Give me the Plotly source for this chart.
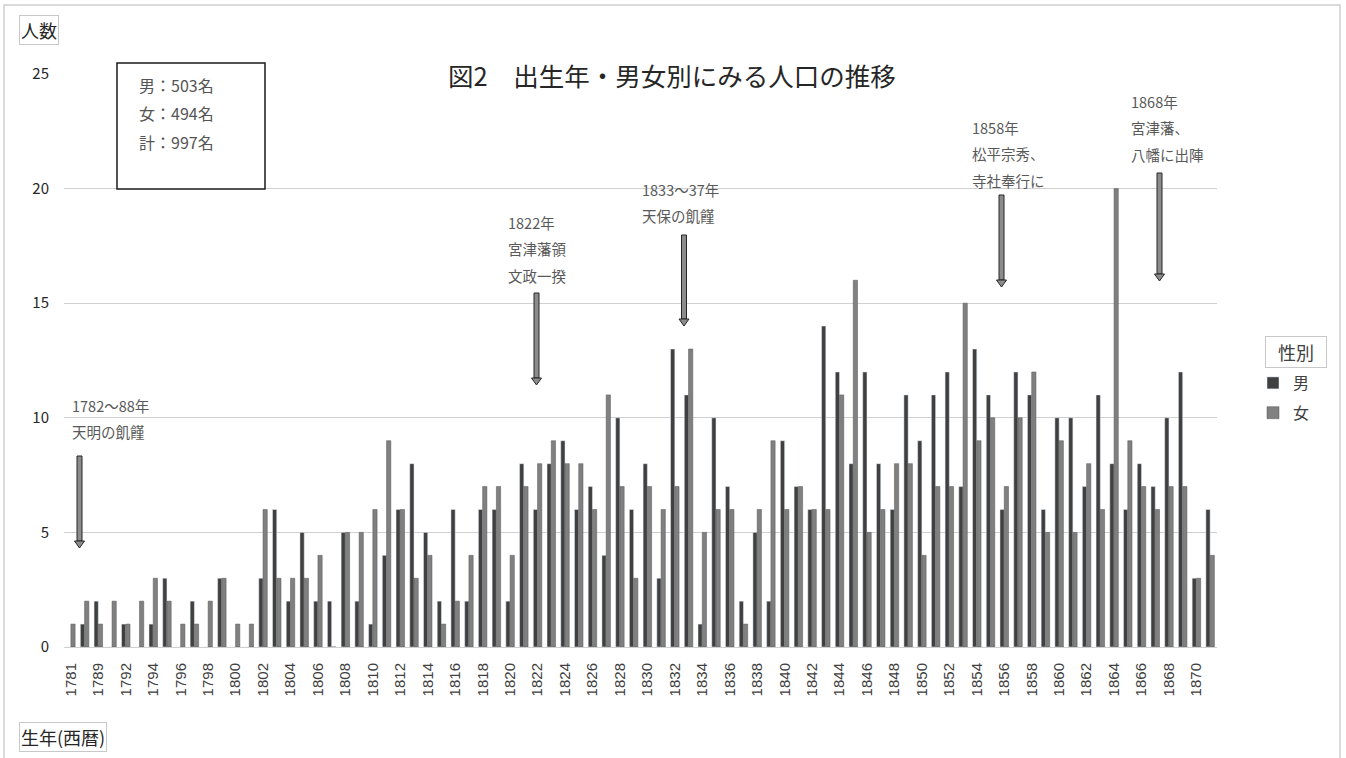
import plotly.graph_objects as go

# ---------------- data ----------------
years = ["1781", "1788", "1789", "1790", "1792", "1793", "1794", "1795", "1796", "1797",
         "1798", "1799", "1800", "1801", "1802", "1803", "1804", "1805", "1806", "1807",
         "1808", "1809", "1810", "1811", "1812", "1813", "1814", "1815", "1816", "1817",
         "1818", "1819", "1820", "1821", "1822", "1823", "1824", "1825", "1826", "1827",
         "1828", "1829", "1830", "1831", "1832", "1833", "1834", "1835", "1836", "1837",
         "1838", "1839", "1840", "1841", "1842", "1843", "1844", "1845", "1846", "1847",
         "1848", "1849", "1850", "1851", "1852", "1853", "1854", "1855", "1856", "1857",
         "1858", "1859", "1860", "1861", "1862", "1863", "1864", "1865", "1866", "1867",
         "1868", "1869", "1870", "1871"]

male = [0, 1, 2, 0, 1, 0, 1, 3, 0, 2, 0, 3, 0, 0,
        3, 6, 2, 5, 2, 2, 5, 2, 1, 4, 6, 8, 5,
        2, 6, 2, 6, 6, 2, 8, 6, 8, 9, 6, 7, 4,
        10, 6, 8, 3, 13, 11, 1, 10, 7, 2, 5, 2, 9,
        7, 6, 14, 12, 8, 12, 8, 6, 11, 9, 11, 12, 7,
        13, 11, 6, 12, 11, 6, 10, 10, 7, 11, 8, 6, 8, 7, 10, 12, 3, 6]

female = [1, 2, 1, 2, 1, 2, 3, 2, 1, 1, 2, 3, 1, 1,
          6, 3, 3, 3, 4, 0, 5, 5, 6, 9, 6, 3, 4,
          1, 2, 4, 7, 7, 4, 7, 8, 9, 8, 8, 6, 11,
          7, 3, 7, 6, 7, 13, 5, 6, 6, 1, 6, 9, 6,
          7, 6, 6, 11, 16, 5, 6, 8, 8, 4, 7, 7, 15,
          9, 10, 7, 10, 12, 5, 9, 5, 8, 6, 20, 9, 7, 6, 7, 7, 3, 4]

tick_years = years[::2]
y_ticks = [0, 5, 10, 15, 20, 25]

summary_lines = ["男：503名", "女：494名", "計：997名"]

events = [
    ["1782〜88年", "天明の飢饉"],
    ["1822年", "宮津藩領", "文政一揆"],
    ["1833〜37年", "天保の飢饉"],
    ["1858年", "松平宗秀、", "寺社奉行に"],
    ["1868年", "宮津藩、", "八幡に出陣"],
]

title_text = "図2　出生年・男女別にみる人口の推移"

# ---------------- layout helpers ----------------
W, H = 1346, 758
L, R, T, B = 64, 1217, 74, 647
FONT = "Noto Sans CJK JP, Noto Sans, sans-serif"
NUMFONT = "Liberation Sans, Arial, sans-serif"


def px(x):
    return (x - L) / (R - L)


def py(y):
    return (B - y) / (B - T)


fig = go.Figure()
fig.add_trace(go.Bar(x=years, y=male, name="男", marker_color="#404040",
                     legendgroup="m"))
fig.add_trace(go.Bar(x=years, y=female, name="女", marker_color="#808080",
                     marker_line=dict(color="#555555", width=0.5),
                     legendgroup="f"))

annotations = []
shapes = []

# title
annotations.append(dict(text=title_text, x=px(672), y=py(74), xref="paper", yref="paper",
                        showarrow=False, xanchor="center", yanchor="middle",
                        font=dict(size=25.5, color="#262626", family=FONT)))

# axis title boxes
annotations.append(dict(text="人数", x=px(19), y=py(30), xref="paper", yref="paper",
                        showarrow=False, xanchor="left", yanchor="middle",
                        font=dict(size=18, color="#262626", family=FONT),
                        bordercolor="#c8c8c8", borderwidth=1, borderpad=1,
                        bgcolor="white"))
annotations.append(dict(text="生年(西暦)", x=px(19), y=py(737), xref="paper", yref="paper",
                        showarrow=False, xanchor="left", yanchor="middle",
                        font=dict(size=18, color="#262626", family=FONT),
                        bordercolor="#c8c8c8", borderwidth=1, borderpad=1,
                        bgcolor="white"))

# legend title box
annotations.append(dict(text="性別", x=px(1296), y=py(352), xref="paper", yref="paper",
                        showarrow=False, xanchor="center", yanchor="middle",
                        font=dict(size=18, color="#404040", family=FONT),
                        bordercolor="#c8c8c8", borderwidth=1, borderpad=2,
                        width=56, bgcolor="white"))

# summary text box
shapes.append(dict(type="rect", xref="paper", yref="paper",
                   x0=px(117), x1=px(265), y0=py(189), y1=py(63),
                   line=dict(color="#1a1a1a", width=1.5), fillcolor="white", layer="above"))
for i, s in enumerate(summary_lines):
    annotations.append(dict(text=s, x=px(137), y=py(84.5 + 28.5 * i), xref="paper", yref="paper",
                            showarrow=False, xanchor="left", yanchor="middle",
                            font=dict(size=16, color="#555555", family=FONT)))

# event annotations: (text left x, first line y, arrow x, arrow top y, arrow tip y)
event_pos = [
    (70, 405, 79.5, 456, 548),
    (506, 222, 536.5, 293, 385),
    (640, 189, 684, 235, 326),
    (970, 127, 1001.5, 195, 287),
    (1129, 101, 1159.5, 173, 281),
]
for lines, (tx, ty, ax, atop, atip) in zip(events, event_pos):
    for j, s in enumerate(lines):
        annotations.append(dict(text=s, x=px(tx), y=py(ty + 26.5 * j), xref="paper", yref="paper",
                                showarrow=False, xanchor="left", yanchor="middle",
                                font=dict(size=14.5, color="#595959", family=FONT)))
    head_h = 7
    # shaft
    shapes.append(dict(type="rect", xref="paper", yref="paper",
                       x0=px(ax - 2.5), x1=px(ax + 2.5), y0=py(atip - head_h), y1=py(atop),
                       line=dict(color="#262626", width=1), fillcolor="#8c8c8c", layer="above"))
    # head
    path = "M {} {} L {} {} L {} {} Z".format(px(ax - 5), py(atip - head_h),
                                               px(ax + 5), py(atip - head_h),
                                               px(ax), py(atip))
    shapes.append(dict(type="path", xref="paper", yref="paper", path=path,
                       line=dict(color="#262626", width=1), fillcolor="#8c8c8c", layer="above"))

# outer chart border
shapes.append(dict(type="rect", xref="paper", yref="paper",
                   x0=px(4), x1=px(1340), y0=py(770), y1=py(5),
                   line=dict(color="#d0d0d0", width=1.5), layer="below"))

fig.update_layout(
    width=W, height=H,
    margin=dict(l=L, r=W - R, t=T, b=H - B),
    paper_bgcolor="white", plot_bgcolor="white",
    barmode="group", bargap=0.38, bargroupgap=0.0,
    font=dict(family=FONT, color="#404040"),
    showlegend=True,
    legend=dict(x=px(1253), y=py(366), xanchor="left", yanchor="top",
                font=dict(size=16, color="#404040", family=FONT),
                itemwidth=30, traceorder="grouped", tracegroupgap=6,
                bgcolor="rgba(0,0,0,0)"),
    annotations=annotations,
    shapes=shapes,
    xaxis=dict(type="category", categoryorder="array", categoryarray=years,
               tickmode="array", tickvals=tick_years, ticktext=tick_years,
               tickangle=-90, tickfont=dict(size=15, color="#404040", family=NUMFONT),
               showgrid=False, showline=True, linecolor="#d0d0d0", linewidth=1,
               ticks="", ticklabelstandoff=9),
    yaxis=dict(range=[0, 25], tickmode="array", tickvals=y_ticks,
               tickfont=dict(size=15, color="#262626", family=FONT),
               showgrid=True, gridcolor="#d0d0d0", gridwidth=1,
               zeroline=False, showline=False, ticks="", ticklabelstandoff=14),
)

fig.write_html("out.html", config={"displayModeBar": False},
               post_script="document.body.style.margin='0px';document.body.style.overflow='hidden';")
